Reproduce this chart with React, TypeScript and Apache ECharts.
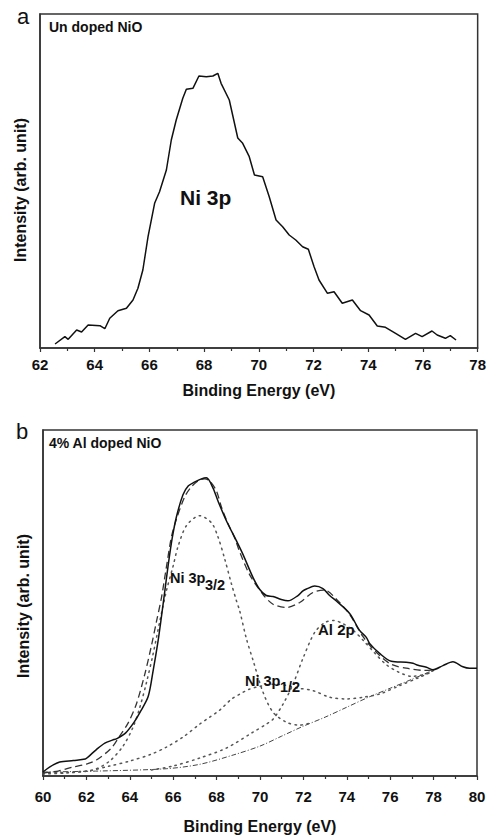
import React, { useEffect, useRef } from "react";
import * as echarts from "echarts";

// ---------- Panel a: undoped NiO, Ni 3p ----------
const aEnergy = [62.55, 62.91, 63.03, 63.34, 63.52, 63.76, 64.19, 64.37, 64.55, 64.85, 65.16, 65.40, 65.58, 65.76, 65.95, 66.19, 66.37, 66.62, 66.80, 66.98, 67.22, 67.35, 67.59, 67.81, 68.08, 68.32, 68.50, 68.62, 68.92, 69.23, 69.41, 69.65, 69.84, 70.14, 70.38, 70.63, 70.87, 71.11, 71.35, 71.60, 71.81, 72.02, 72.20, 72.51, 72.75, 73.05, 73.42, 73.72, 74.03, 74.33, 74.63, 75.00, 75.36, 75.73, 75.97, 76.33, 76.52, 76.82, 77.00, 77.21];
const aIntensity = [4, 11.3, 8.7, 18, 16, 23, 22.3, 19.3, 29.7, 37.3, 39.7, 48, 59.7, 78, 111.3, 144.7, 156.3, 178, 208, 228, 249.7, 258.7, 259.7, 272, 271.3, 272, 274.7, 264.7, 248, 210, 204.7, 191.3, 173, 171.3, 151.3, 128, 121.3, 113, 108, 101.3, 98.7, 81.3, 68, 54.7, 56.3, 44.7, 48, 37.3, 33, 22, 20.7, 14.7, 8.7, 14.7, 11.3, 17, 13, 9.7, 12.3, 8];

// ---------- Panel b: 4% Al doped NiO ----------
const bExpEnergy = [60.0, 60.3, 60.77, 61.4, 61.95, 62.1, 62.46, 62.85, 63.2, 63.4, 63.8, 64.2, 64.5, 64.85, 65.07, 65.3, 65.46, 65.61, 65.76, 65.95, 66.15, 66.45, 66.7, 67.0, 67.3, 67.53, 67.83, 68.06, 68.45, 68.91, 69.22, 69.68, 69.99, 70.29, 70.6, 70.98, 71.29, 71.75, 71.98, 72.14, 72.52, 72.9, 73.21, 73.52, 74.13, 74.59, 74.9, 75.05, 75.51, 76.05, 76.74, 77.05, 77.28, 77.67, 77.97, 78.43, 78.89, 79.35, 79.66, 80.0];
const bExpIntensity = [4, 9, 14, 15.5, 17, 19.5, 26.5, 33, 36, 37.5, 43, 54, 65, 80, 105, 135, 160, 185, 210, 238, 260, 282, 291, 295, 298, 299, 289, 276, 256, 236, 222, 199, 187, 181, 180, 177, 175.7, 181, 185.7, 187.5, 190.5, 188, 181, 175.5, 163, 146, 139, 133, 123, 115, 114, 113, 111, 109, 106.5, 110.7, 114.5, 109.5, 108, 108];

const bFitEnergy = [60.0, 60.7, 61.38, 62.0, 62.46, 63.15, 63.53, 63.92, 64.3, 64.69, 64.99, 65.23, 65.46, 65.69, 65.92, 66.14, 66.53, 66.84, 67.22, 67.45, 67.68, 67.99, 68.22, 68.53, 68.83, 69.06, 69.52, 70.14, 70.6, 71.21, 71.83, 72.44, 72.98, 73.52, 74.13, 74.74, 75.36, 76.05, 76.89, 77.5, 78.0];
const bFitIntensity = [3, 5, 9, 12, 16, 28, 40, 53, 72, 102, 130, 155, 179, 210, 240, 257, 280, 290, 297, 298, 296, 286, 270, 253, 239, 225, 202, 182, 172.3, 169, 174, 184, 186.5, 177.3, 162, 140, 124, 112, 107.5, 106, 106.3];

const ni32Energy = [60.0, 61.08, 62.3, 63.07, 63.69, 64.15, 64.45, 64.76, 65.07, 65.38, 65.69, 65.99, 66.22, 66.61, 67.22, 67.76, 68.06, 68.37, 68.68, 68.91, 69.06, 69.37, 69.68, 70.14, 70.6, 71.21, 71.83, 72.3];
const ni32Intensity = [2, 3, 6, 15, 30, 49, 68, 93, 122, 155, 186, 210, 230, 251, 261, 254, 240, 218, 193, 176, 166, 138, 116, 84, 64, 54, 51, 53];

const ni12Energy = [60.0, 62.0, 63.07, 64.0, 65.0, 65.69, 66.45, 67.22, 67.68, 68.14, 68.68, 69.06, 69.5, 70.0, 70.6, 71.2, 71.8, 72.44, 73.21, 73.98, 74.75, 75.52, 76.44, 77.36, 77.97];
const ni12Intensity = [3, 5, 10, 15, 22, 29, 39, 52, 59, 66, 77, 82, 87, 90, 92, 91, 88, 85.7, 79, 77.3, 79, 82.3, 90.7, 99, 105];

const al2pEnergy = [65.0, 65.99, 67.22, 68.45, 69.68, 70.29, 70.6, 71.06, 71.52, 71.98, 72.52, 73.0, 73.4, 73.8, 74.3, 74.8, 75.3, 75.8, 76.4, 77.0, 77.6, 78.0];
const al2pIntensity = [6, 10, 18, 28, 44, 52, 57, 72, 92, 118, 144, 154, 156, 153, 146, 135, 123, 112, 104, 100, 102, 106];

const bgEnergy = [60.0, 62.6, 65.68, 67.22, 68.76, 70.0, 71.0, 72.0, 73.0, 74.0, 75.0, 76.0, 77.0, 77.97];
const bgIntensity = [4, 5, 7.3, 11.7, 21, 30, 40, 50, 59, 69, 79, 88, 97, 106];

const aTicks = { min: 62, max: 78, interval: 2 };
const bTicks = { min: 60, max: 80, interval: 2 };

const FONT = "'Liberation Sans', Arial, Helvetica, sans-serif";

const zip = (xs: number[], ys: number[]) => xs.map((x, i) => [x, ys[i]]);

const BOX_B_TOP = 430;

export default function App() {
  const ref = useRef<HTMLDivElement>(null);

  useEffect(() => {
    if (!ref.current) return;
    const chart = echarts.init(ref.current, undefined, { renderer: "svg" });

    const xAxisCommon = (t: { min: number; max: number; interval: number }, labelMargin: number, nameGap: number) => ({
      type: "value" as const,
      min: t.min,
      max: t.max,
      interval: t.interval,
      name: "Binding Energy (eV)",
      nameLocation: "middle" as const,
      nameGap,
      nameTextStyle: { fontFamily: FONT, fontWeight: "bold", fontSize: 16, color: "#111" },
      axisLine: { show: true, onZero: false, lineStyle: { color: "#333", width: 1.5 } },
      axisTick: { show: true, inside: false, length: 4, lineStyle: { color: "#333", width: 1.2 } },
      minorTick: { show: true, splitNumber: 2, length: 3, lineStyle: { color: "#333", width: 1.2 } },
      axisLabel: { fontFamily: FONT, fontWeight: "bold", fontSize: 15, color: "#111", margin: labelMargin },
      splitLine: { show: false },
      minorSplitLine: { show: false },
    });

    const yAxisCommon = (max: number) => ({
      type: "value" as const,
      min: 0,
      max,
      axisLine: { show: true, onZero: false, lineStyle: { color: "#333", width: 1.5 } },
      axisTick: { show: false },
      axisLabel: { show: false },
      splitLine: { show: false },
    });

    const text = (t: string, x: number, y: number, size: number, weight: string, extra: any = {}) => ({
      type: "text",
      x,
      y,
      z: 100,
      ...extra,
      style: {
        text: t,
        fontFamily: FONT,
        fontSize: size,
        fontWeight: weight,
        fill: "#111",
        textAlign: extra.align || "left",
        textVerticalAlign: "middle",
      },
    });

    chart.setOption({
      animation: false,
      backgroundColor: "#fff",
      grid: [
        { left: 40, top: 14, width: 439, height: 334, show: true, borderColor: "#333", borderWidth: 1.5, backgroundColor: "transparent" },
        { left: 43, top: BOX_B_TOP, width: 434, height: 777 - BOX_B_TOP, show: true, borderColor: "#333", borderWidth: 1.5, backgroundColor: "transparent" },
      ],
      xAxis: [
        { gridIndex: 0, ...xAxisCommon(aTicks, 9, 34) },
        { gridIndex: 1, ...xAxisCommon(bTicks, 13, 42) },
      ],
      yAxis: [
        { gridIndex: 0, ...yAxisCommon(334) },
        { gridIndex: 1, ...yAxisCommon(777 - BOX_B_TOP) },
      ],
      series: [
        {
          name: "Un doped NiO",
          type: "line",
          xAxisIndex: 0,
          yAxisIndex: 0,
          data: zip(aEnergy, aIntensity),
          showSymbol: false,
          lineStyle: { color: "#111", width: 1.5 },
        },
        {
          name: "Background",
          type: "line",
          xAxisIndex: 1,
          yAxisIndex: 1,
          data: zip(bgEnergy, bgIntensity),
          showSymbol: false,
          smooth: 0.3,
          lineStyle: { color: "#444", width: 1, type: [5, 2, 1, 2] },
        },
        {
          name: "Ni 3p3/2",
          type: "line",
          xAxisIndex: 1,
          yAxisIndex: 1,
          data: zip(ni32Energy, ni32Intensity),
          showSymbol: false,
          smooth: 0.3,
          lineStyle: { color: "#555", width: 1.5, type: [1.5, 4.5], cap: "round" },
        },
        {
          name: "Ni 3p1/2",
          type: "line",
          xAxisIndex: 1,
          yAxisIndex: 1,
          data: zip(ni12Energy, ni12Intensity),
          showSymbol: false,
          smooth: 0.3,
          lineStyle: { color: "#555", width: 1.5, type: [1.5, 4.5], cap: "round" },
        },
        {
          name: "Al 2p",
          type: "line",
          xAxisIndex: 1,
          yAxisIndex: 1,
          data: zip(al2pEnergy, al2pIntensity),
          showSymbol: false,
          smooth: 0.3,
          lineStyle: { color: "#555", width: 1.5, type: [1.5, 4.5], cap: "round" },
        },
        {
          name: "Fit",
          type: "line",
          xAxisIndex: 1,
          yAxisIndex: 1,
          data: zip(bFitEnergy, bFitIntensity),
          showSymbol: false,
          smooth: 0.3,
          lineStyle: { color: "#333", width: 1.3, type: [7, 4] },
        },
        {
          name: "4% Al doped NiO",
          type: "line",
          xAxisIndex: 1,
          yAxisIndex: 1,
          data: zip(bExpEnergy, bExpIntensity),
          showSymbol: false,
          smooth: 0.3,
          lineStyle: { color: "#111", width: 1.5 },
        },
      ],
      graphic: [
        text("a", 17, 16, 22, "normal"),
        text("Un doped NiO", 49, 27, 14, "bold"),
        text("Ni 3p", 180, 197, 21, "bold"),
        text("Intensity (arb. unit)", 20, 190, 16, "bold", { rotation: Math.PI / 2, align: "center" }),
        text("b", 16, BOX_B_TOP + 1, 22, "normal"),
        text("4% Al doped NiO", 49, BOX_B_TOP + 13, 14, "bold"),
        text("Intensity (arb. unit)", 23, 606, 16, "bold", { rotation: Math.PI / 2, align: "center" }),
        text("Ni 3p", 170, 578, 14.5, "bold"),
        text("3/2", 205, 585, 14.5, "bold"),
        text("Ni 3p", 245, 681, 14.5, "bold"),
        text("1/2", 280, 687, 14.5, "bold"),
        text("Al 2p", 318, 629, 15, "bold"),
      ],
    });

    return () => chart.dispose();
  }, []);

  return (
    <div
      ref={ref}
      style={{ position: "absolute", left: 0, top: 0, width: 489, height: 835, background: "#fff" }}
    />
  );
}
